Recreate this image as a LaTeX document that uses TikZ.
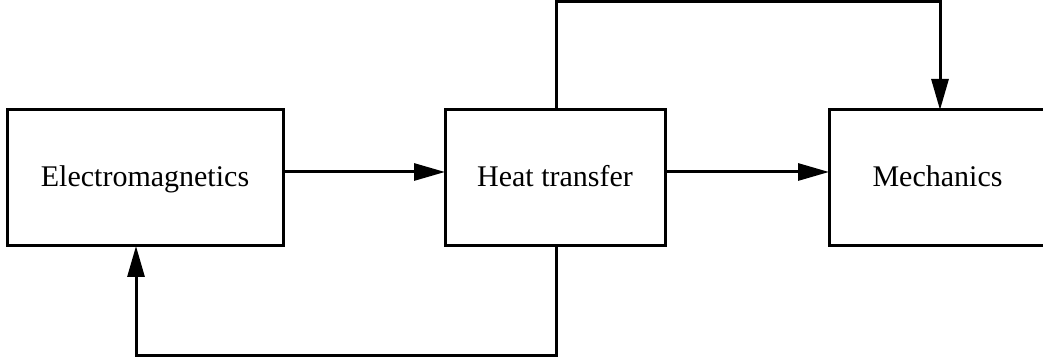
\documentclass[tikz,border=0pt]{standalone}
\usepackage{fontspec}
\setmainfont{Liberation Serif}
\usetikzlibrary{arrows.meta}
\begin{document}
\begin{tikzpicture}[x=0.5pt,y=-0.5pt,
  blk/.style={draw,line width=1.5pt,inner sep=0pt,outer sep=0pt,
    minimum height=68pt,text height=10.5pt,text depth=2pt,
    font=\fontsize{15}{18}\selectfont},
  arr/.style={line width=1.5pt,-{Triangle[length=15.5pt,width=8.5pt]}}]
\useasboundingbox (0,0) rectangle (1043,362);
\node[blk,minimum width=138pt] (em) at (145,178) {Electromagnetics};
\node[blk,minimum width=110pt] (ht) at (555,178) {Heat transfer};
\node[blk,minimum width=108.5pt] (me) at (937.5,178) {Mechanics};
\coordinate (tl) at (556,1.5);
\coordinate (tr) at (940,1.5);
\coordinate (bl) at (136,356);
\coordinate (br) at (556,356);
\draw[arr] (em.east |- 0,172) -- (ht.west |- 0,172);
\draw[arr] (ht.east |- 0,172) -- (me.west |- 0,172);
\draw[arr] (ht.north -| tl) -- (tl) -- (tr) -- (me.north -| tr);
\draw[arr] (ht.south -| br) -- (br) -- (bl) -- (em.south -| bl);
\end{tikzpicture}
\end{document}
